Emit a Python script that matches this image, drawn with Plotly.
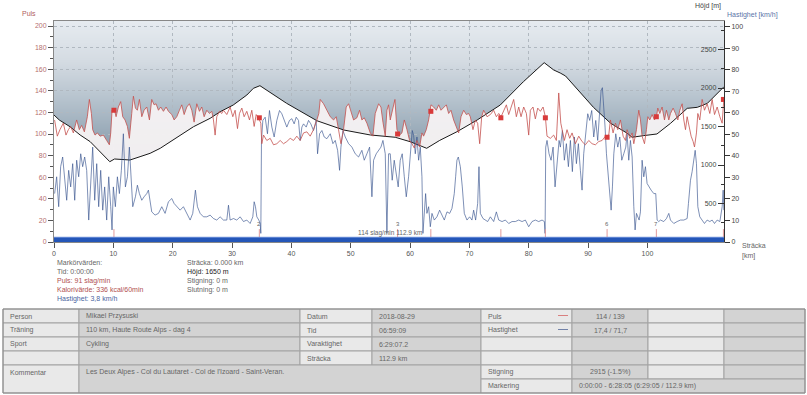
import plotly.graph_objects as go
import zlib, struct, base64

# ---------------- data ----------------
pulse_km = [0.1, 0.56, 1.0, 1.57, 2.02, 2.42, 2.81, 3.26, 3.82, 4.27, 4.66, 5.12, 5.62, 5.96, 6.3, 6.52, 6.91, 7.31, 7.76, 8.32,
            8.88, 9.33, 9.56, 9.78, 10.12, 10.46, 10.85, 11.24, 11.58, 11.97, 12.37, 12.7, 13.1, 13.38, 13.72, 14.05, 14.39, 14.79,
            15.18, 15.63, 16.08, 16.47, 16.87, 17.2, 17.6, 17.99, 18.44, 18.89, 19.28, 19.85, 20.24, 20.69, 21.14, 21.53, 21.93,
            22.38, 22.82, 23.22, 23.61, 24.06, 24.51, 24.9, 25.3, 25.75, 26.2, 26.59, 26.87, 27.15, 27.43, 27.88,
            28.27, 28.56, 29.12, 29.68, 30.13, 30.52, 30.92, 31.25, 31.65, 32.04, 32.49, 32.94, 33.33, 33.73, 34.07, 34.46,
            34.85, 35.02, 35.3, 35.86, 36.43, 36.99, 37.55, 38.11, 38.67, 39.23, 39.8, 40.36, 40.92, 41.48, 42.05, 42.61,
            43.17, 43.73, 44.29, 44.63, 44.86, 45.42, 45.98, 46.55, 47.11, 47.56, 47.95, 48.35, 48.79, 49.24, 49.64, 50.03,
            50.48, 51.04, 51.49, 51.88, 52.28, 52.73, 53.29, 53.74, 54.13, 54.7, 55.09, 55.43, 55.82, 56.1, 56.38,
            56.66, 57.11, 57.45, 57.79, 58.24, 58.63, 59.03, 59.48, 59.92, 60.32, 60.71, 61.16, 61.61, 62.0, 62.28, 62.73,
            63.13, 63.52, 63.97, 64.42, 64.82, 65.21, 65.66, 66.11, 66.5, 66.89, 67.34, 67.79, 68.19, 68.58, 69.03, 69.48,
            69.87, 70.15, 70.6, 71.0, 71.39, 71.73, 72.07, 72.4, 72.97, 73.53, 74.09, 74.54, 74.94, 75.33, 75.78, 76.23,
            76.62, 77.01, 77.46, 77.91, 78.31, 78.7, 79.15, 79.6, 79.99, 80.27, 80.72, 81.11, 81.51, 81.96, 82.41, 82.8,
            83.08, 83.64, 84.2, 84.65, 85.05, 85.4, 85.7,
            86.0, 86.45, 86.9, 87.3, 87.86, 88.42, 88.98, 89.54, 90.11, 90.67, 91.23, 91.79, 92.36, 92.92, 93.48, 93.76,
            94.21, 94.61, 95.0, 95.45, 95.9, 96.29, 96.57, 97.02, 97.42, 97.7, 98.15, 98.54, 98.82, 99.1, 99.5, 99.83,
            100.06, 100.39, 100.79, 101.18, 101.52, 101.74, 102.08, 102.47, 102.87, 103.2, 103.6, 103.88, 104.33, 104.72,
            105.12, 105.45, 105.85, 106.13, 106.41, 106.69, 106.97, 107.36, 107.7, 107.93, 108.26, 108.49, 108.82, 109.22,
            109.61, 110.06, 110.51, 110.9, 111.3, 111.75, 112.2, 112.59, 112.87]
pulse_bpm = [113, 98, 104, 110, 99, 104, 107, 101, 113, 104, 108, 102, 116, 132, 119, 104, 99, 101, 98, 99,
             94, 90, 101, 122, 124, 116, 125, 130, 116, 113, 107, 96, 119, 135, 124, 122, 132, 116,
             122, 125, 113, 132, 127, 128, 122, 125, 121, 125, 121, 118, 113, 116, 122, 127, 118,
             125, 128, 122, 111, 128, 121, 125, 116, 122, 119, 121, 113, 99, 116, 121,
             119, 122, 118, 125, 116, 122, 105, 119, 124, 116, 121, 113, 122, 107, 118, 115,
             110, 91, 99, 94, 96, 90, 91, 94, 91, 93, 96, 94, 98, 94, 101, 102,
             98, 104, 113, 119, 132, 128, 122, 116, 113, 116, 104, 91, 104, 125, 128, 122,
             113, 115, 122, 113, 115, 110, 101, 98, 119, 128, 125, 111, 98, 122, 127,
             113, 125, 132, 104, 99, 101, 113, 104, 94, 91, 87, 94, 88, 101, 98, 104,
             113, 127, 125, 122, 127, 122, 125, 127, 119, 122, 113, 107, 101, 116, 122, 118,
             119, 116, 104, 113, 110, 91, 116, 122, 116, 118, 122, 116, 119, 116, 122, 127,
             118, 124, 132, 116, 125, 116, 125, 119, 99, 122, 125, 114, 124, 121, 125, 116,
             98, 96, 99, 94, 138, 110, 100,
             94, 104, 96, 101, 91, 98, 93, 90, 94, 91, 90, 93, 94, 98, 99, 113,
             101, 110, 104, 113, 98, 94, 104, 96, 101, 91, 104, 122, 113, 98, 91, 104,
             116, 113, 118, 113, 116, 124, 119, 125, 113, 122, 113, 119, 124, 119,
             113, 122, 128, 113, 104, 116, 107, 98, 93, 88, 101, 119, 113, 132,
             122, 128, 119, 132, 118, 125, 116, 110, 132]

alt_km = [0, 0.9, 2.7, 4.4, 6.1, 7.8, 9.4, 10.2, 12.8, 14.5, 16.2, 17.9, 19.6, 21.5, 23.5, 26.3, 28.0, 30.2, 32.5,
          33.6, 34.7, 39.2, 44.3, 48.8, 53.3, 57.5, 60.0, 62.8, 65.0, 67.9, 71.3, 75.2, 79.1, 82.6, 84.2, 85.3, 86.2,
          90.9, 93.8, 96.6, 97.4, 99.3, 101.6, 103.9, 106.7, 108.4, 110.1, 112.9]
alt_m = [1649, 1584, 1497, 1390, 1303, 1173, 1043, 1078, 1065, 1108, 1152, 1217, 1303, 1390, 1497, 1606, 1692, 1779, 1909,
         1996, 2030, 1801, 1575, 1455, 1390, 1360, 1303, 1217, 1320, 1432, 1584, 1779, 2082, 2329, 2234, 2195, 2156,
         1749, 1542, 1412, 1360, 1381, 1403, 1542, 1736, 1749, 1801, 2017]

speed_km = [0.11, 0.45, 0.79, 1.12, 1.46, 1.8, 2.14, 2.47, 2.81, 3.15, 3.49, 3.82, 4.16, 4.5, 4.83, 5.17, 5.51, 5.85, 6.18,
            6.52, 6.86, 7.2, 7.53, 7.87, 8.21, 8.54, 8.88, 9.22, 9.56, 9.78, 10.0, 10.34, 10.68, 11.02, 11.35, 11.69, 12.03,
            12.37, 12.7, 12.93, 13.27, 13.72, 14.05, 14.39, 14.79, 15.18, 15.63, 15.91, 16.19, 16.47, 17.03, 17.6, 18.16,
            18.72, 19.28, 19.85, 20.24, 20.69, 21.25, 21.81, 22.38, 22.94, 23.38, 23.83, 24.17, 24.62, 25.18, 25.75, 26.31,
            26.87, 27.43, 27.99, 28.55,
            29.12, 29.4, 29.68, 30.24, 30.8, 31.37, 31.93, 32.49, 33.05, 33.5, 33.73, 33.95, 34.18, 34.51, 34.74, 34.85,
            34.96, 35.19, 35.58, 35.97, 36.31, 36.71, 37.1, 37.55, 38.0, 38.39, 38.79, 39.23, 39.68, 40.08, 40.47, 40.81,
            41.2, 41.48, 41.77, 42.05, 42.5, 42.89, 43.28, 43.73, 44.18, 44.41, 44.75, 45.14, 45.53, 45.98, 46.55, 47.0,
            47.39, 47.79, 48.12, 48.35, 48.69, 49.08, 49.64, 50.2, 50.76, 51.32, 51.88, 52.28, 52.73, 53.18, 53.57, 53.85,
            54.3, 54.7, 55.09, 55.43, 55.82, 56.1, 56.38,
            56.66, 56.99, 57.33, 57.67, 58.0, 58.34, 58.68, 59.03, 59.36, 59.75, 60.15, 60.37, 60.6, 60.88, 61.16, 61.44,
            61.72, 62.0, 62.17, 62.39, 62.62, 62.84, 63.13, 63.41, 63.69, 64.08, 64.53, 64.98, 65.38, 65.77, 66.22, 66.67,
            67.06, 67.45, 67.68, 67.9, 68.13, 68.47, 68.8, 69.14, 69.59, 70.04, 70.43, 70.71, 71.05, 71.39, 71.61, 71.84,
            72.29, 72.68, 73.08, 73.53, 74.09, 74.54, 74.94, 75.5, 76.06, 76.62, 77.18, 77.74, 78.31, 78.87, 79.43, 79.99,
            80.55, 81.11, 81.68, 82.24, 82.63, 82.75, 82.86, 83.08, 83.42, 83.76, 84.1, 84.43, 84.77, 85.11,
            85.33, 85.67, 86.0, 86.34, 86.68, 87.02, 87.35, 87.69, 88.03, 88.36, 88.7, 88.98, 89.26, 89.6, 89.94, 90.27,
            90.61, 90.95, 91.29, 91.62, 91.96, 92.19, 92.41, 92.64, 92.86, 93.09, 93.31, 93.65, 93.88, 94.1, 94.33, 94.66,
            95.0, 95.34, 95.67, 96.01, 96.35, 96.57, 96.85, 97.13, 97.42, 97.7, 97.92, 98.15, 98.37, 98.6, 98.82, 99.1,
            99.38, 99.66, 99.94, 100.23, 100.62, 101.07, 101.4, 101.63, 101.91, 102.19, 102.75, 103.2, 103.6, 103.88,
            104.44, 105.0, 105.56, 106.13, 106.69, 106.91, 107.25, 107.53, 107.81, 108.04, 108.26, 108.49, 108.82, 109.22,
            109.61, 110.06, 110.51, 110.9, 111.3, 111.75, 112.2, 112.59, 112.76, 112.87]
speed_kmh = [22.5, 30.3, 16.4, 35.0, 39.5, 28.7, 19.4, 33.3, 25.6, 36.4, 19.4, 38.0, 30.3, 41.0, 35.0, 39.5, 33.3, 10.2, 28.7,
             44.1, 19.4, 36.4, 16.4, 33.3, 14.8, 25.6, 10.2, 30.3, 16.4, 5.6, 25.6, 16.4, 30.3, 22.5, 33.3, 50.3, 25.6,
             30.3, 44.1, 32.7, 16.4, 21.0, 26.4, 22.5, 19.4, 21.0, 22.5, 24.1, 18.7, 14.0, 12.5, 13.3, 16.4,
             13.3, 18.7, 20.2, 17.9, 16.4, 14.8, 16.4, 13.3, 10.2, 13.3, 24.1, 16.4, 13.3, 11.7, 11.7, 12.5,
             10.9, 10.2, 11.7, 10.2,
             10.2, 17.1, 10.2, 10.9, 10.2, 11.7, 9.5, 10.2, 8.6, 11.7, 18.7, 16.4, 11.7, 10.2, 8.6, 4.0,
             47.2, 56.5, 58.0, 50.3, 61.1, 53.4, 48.8, 56.5, 61.1, 59.6, 56.5, 53.4, 56.5, 57.3, 54.9, 58.0,
             56.5, 47.2, 53.4, 54.9, 53.4, 56.5, 54.9, 51.8, 56.5, 41.0, 50.3, 51.8, 48.8, 48.0, 50.3, 45.7,
             47.2, 42.6, 33.3, 44.1, 51.8, 48.8, 45.7, 44.1, 41.0, 39.5, 42.6, 38.0, 41.0, 44.1, 21.0, 38.0,
             41.0, 42.6, 44.1, 47.2, 41.0, 4.0, 41.0,
             41.0, 28.7, 38.0, 32.7, 25.6, 38.0, 41.0, 30.3, 21.0, 30.3, 44.1, 51.8, 49.5, 41.0, 48.8, 38.0,
             44.1, 30.3, 4.0, 16.4, 22.5, 13.3, 16.4, 7.1, 13.3, 10.2, 11.7, 14.8, 12.5, 10.2, 14.0, 13.3,
             15.6, 22.5, 30.3, 38.0, 39.5, 35.0, 25.6, 13.3, 10.2, 11.7, 10.2, 14.8, 10.2, 17.9, 35.0, 13.3,
             10.9, 10.2, 9.5, 11.7, 9.5, 14.0, 10.2, 9.5, 10.2, 8.6, 9.5, 9.5, 10.2, 9.5, 10.2, 7.1,
             9.5, 10.2, 9.5, 10.2, 9.5, 4.0, 44.1, 47.2, 41.0, 38.0, 44.1, 25.6, 38.0, 47.2,
             44.1, 51.8, 38.0, 45.7, 35.0, 47.2, 32.7, 48.8, 36.4, 45.7, 33.3, 24.1, 41.0, 51.8, 59.6, 56.5,
             61.1, 48.8, 56.5, 47.2, 64.2, 70.4, 71.7, 64.2, 53.4, 41.0, 33.3, 22.5, 14.8, 25.6, 41.0, 50.3,
             44.1, 48.8, 38.0, 41.0, 44.1, 50.3, 38.0, 47.2, 39.5, 16.4, 5.6, 13.3, 11.7, 10.2, 14.0, 38.0,
             30.3, 35.0, 27.2, 25.6, 24.1, 22.5, 22.5, 10.2, 9.5, 10.2, 9.5, 10.9, 13.3, 10.2,
             8.6, 9.5, 10.2, 10.2, 10.9, 17.9, 28.7, 32.7, 38.0, 42.6, 36.4, 16.4, 11.7, 10.2,
             8.6, 10.2, 9.5, 10.2, 8.6, 10.2, 9.5, 16.4, 24.1, 14.8]

lap_km = [10.1, 34.6, 57.9, 63.5, 75.3, 82.8, 93.2, 101.5, 112.8]
lap_bpm = [122, 115, 100, 121, 115, 115, 97, 116, 132]
lap_label_km = [34.6, 57.9, 93.2, 101.5]
lap_labels = ["2", "3", "6", "7"]
mark_start_km, mark_end_km = 0.0, 112.9

pulse_ticks = list(range(0, 201, 20))
speed_ticks = list(range(0, 101, 10))
alt_ticks = [500, 1000, 1500, 2000, 2500]
km_ticks = list(range(0, 111, 10))

marker_left = [("Markörvärden:", "#666666"), ("Tid: 0:00:00", "#666666"), ("Puls: 91 slag/min", "#b05050"),
               ("Kalorivärde: 336 kcal/60min", "#b05050"), ("Hastighet: 3,8 km/h", "#4a64a0")]
marker_right = [("Sträcka: 0.000 km", "#666666"), ("Höjd: 1650 m", "#222222"), ("Stigning: 0 m", "#666666"),
                ("Slutning: 0 m", "#666666")]

table_text = [  # (column index, row index, text, align)
    (0, 0, "Person", "l"), (1, 0, "Mikael Przysuski", "l"), (2, 0, "Datum", "l"), (3, 0, "2018-08-29", "l"),
    (4, 0, "Puls", "l"), (5, 0, "114 / 139", "c"),
    (0, 1, "Träning", "l"), (1, 1, "110 km, Haute Route Alps - dag 4", "l"), (2, 1, "Tid", "l"), (3, 1, "06:59:09", "l"),
    (4, 1, "Hastighet", "l"), (5, 1, "17,4 / 71,7", "c"),
    (0, 2, "Sport", "l"), (1, 2, "Cykling", "l"), (2, 2, "Varaktighet", "l"), (3, 2, "6:29:07.2", "l"),
    (2, 3, "Sträcka", "l"), (3, 3, "112.9 km", "l"),
    (0, 4, "Kommentar", "l"), (1, 4, "Les Deux Alpes - Col du Lautaret - Col de l'Izoard - Saint-Veran.", "l"),
    (4, 4, "Stigning", "l"), (5, 4, "2915 (-1.5%)", "c"),
    (4, 5, "Markering", "l"), (5, 5, "0:00:00 - 6:28:05 (6:29:05 / 112.9 km)", "l"),
]

# ---------------- geometry (pixels) ----------------
W, H = 807, 395
PL, PR, PT, PB = 54, 724, 21, 242
def fx(px): return px / W
def fy(py): return 1 - py / H

FONT = "Liberation Sans, Arial, sans-serif"

# gradient background image (1 px wide PNG)
grad_stops = [(0, (230, 235, 240)), (40, (212, 219, 226)), (80, (180, 193, 204)), (110, (154, 171, 185)),
              (140, (130, 150, 168)), (221, (104, 127, 148))]
def grad_color(t):
    for (a, ca), (b, cb) in zip(grad_stops, grad_stops[1:]):
        if a <= t <= b:
            f = (t - a) / (b - a)
            return tuple(int(round(ca[i] + (cb[i] - ca[i]) * f)) for i in range(3))
    return grad_stops[-1][1]
def png_uri(colors):
    raw = b"".join(b"\x00" + bytes(c) for c in colors)
    def chunk(t, d):
        return struct.pack(">I", len(d)) + t + d + struct.pack(">I", zlib.crc32(t + d) & 0xffffffff)
    png = (b"\x89PNG\r\n\x1a\n" + chunk(b"IHDR", struct.pack(">IIBBBBB", 1, len(colors), 8, 2, 0, 0, 0))
           + chunk(b"IDAT", zlib.compress(raw)) + chunk(b"IEND", b""))
    return "data:image/png;base64," + base64.b64encode(png).decode()
grad_uri = png_uri([grad_color(t) for t in range(PB - PT)])

fig = go.Figure()

# pulse fill (under altitude)
fig.add_trace(go.Scatter(x=pulse_km, y=pulse_bpm, yaxis="y", mode="lines", fill="tozeroy",
                         fillcolor="rgba(245,241,243,0.96)", line=dict(width=0), hoverinfo="skip", showlegend=False))
# altitude
fig.add_trace(go.Scatter(x=alt_km, y=alt_m, yaxis="y2", mode="lines", fill="tozeroy", fillcolor="#ffffff",
                         line=dict(color="#1a1a1a", width=1), hoverinfo="skip", showlegend=False))
# speed
fig.add_trace(go.Scatter(x=speed_km, y=speed_kmh, yaxis="y3", mode="lines",
                         line=dict(color="rgba(52,80,140,0.85)", width=0.75), hoverinfo="skip", showlegend=False))
# lap ticks near the bottom
tx, ty = [], []
for k in lap_km:
    tx += [k, k, None]
    ty += [2.3, 6.0, None]
fig.add_trace(go.Scatter(x=tx, y=ty, yaxis="y3", mode="lines", line=dict(color="#e29a9a", width=1),
                         hoverinfo="skip", showlegend=False))
# pulse line + lap squares
fig.add_trace(go.Scatter(x=pulse_km, y=pulse_bpm, yaxis="y4", mode="lines",
                         line=dict(color="#c4504e", width=0.8), hoverinfo="skip", showlegend=False))
fig.add_trace(go.Scatter(x=lap_km, y=lap_bpm, yaxis="y4", mode="markers",
                         marker=dict(symbol="square", size=5, color="#d83a3a"), hoverinfo="skip", showlegend=False))

tickfont = dict(family=FONT, size=7, color="#555555")
dom_x = [fx(PL), fx(PR)]
dom_y = [fy(PB), fy(PT)]
pulse_range = [0, (PB - PT) / 1.08]
fig.update_layout(
    template="none", width=W, height=H, autosize=False,
    margin=dict(l=0, r=0, t=0, b=0, pad=0),
    paper_bgcolor="white", plot_bgcolor="rgba(0,0,0,0)", showlegend=False,
    xaxis=dict(domain=dom_x, range=[0, 112.9], tickvals=km_ticks, ticks="outside", ticklen=5, tickcolor="#555",
               tickfont=tickfont, showgrid=True, gridcolor="#b0b8c0", griddash="dot", gridwidth=1,
               showline=True, linecolor="#888", linewidth=1, mirror=True, zeroline=False, automargin=False,
               fixedrange=True),
    yaxis=dict(domain=dom_y, range=pulse_range, tickvals=pulse_ticks, ticks="outside", ticklen=5, tickcolor="#555",
               minor=dict(dtick=10, tick0=0, ticks="outside", ticklen=3, tickcolor="#555", showgrid=False),
               tickfont=dict(family=FONT, size=7, color="#b57070"), showgrid=True, gridcolor="#b0b8c0",
               griddash="dot", gridwidth=1, showline=True, linecolor="#888", linewidth=1, zeroline=False,
               automargin=False, fixedrange=True),
    yaxis2=dict(overlaying="y", side="right", anchor="x", range=[0, (PB - PT) / 0.077], tickvals=alt_ticks,
                ticks="inside", ticklen=6, tickcolor="#333", ticklabelposition="inside",
                minor=dict(dtick=250, tick0=0, ticks="inside", ticklen=3, tickcolor="#333", showgrid=False),
                tickfont=dict(family=FONT, size=7, color="#444"), showgrid=False, zeroline=False,
                showline=True, linecolor="#333", linewidth=1, automargin=False, fixedrange=True),
    yaxis3=dict(overlaying="y", side="right", anchor="x", range=[0, (PB - PT) / 2.152], tickvals=speed_ticks,
                ticks="outside", ticklen=5, tickcolor="#333", tickfont=dict(family=FONT, size=7, color="#444"),
                showgrid=False, zeroline=False, showline=False, automargin=False, fixedrange=True),
    yaxis4=dict(overlaying="y", side="left", anchor="x", range=pulse_range, visible=False, showgrid=False,
                zeroline=False, fixedrange=True),
)

fig.add_layout_image(dict(source=grad_uri, xref="paper", yref="paper", x=fx(PL), y=fy(PT),
                          sizex=fx(PR) - fx(PL), sizey=(PB - PT) / H, sizing="stretch",
                          xanchor="left", yanchor="top", layer="below"))

shapes = []
# blue marking bar
shapes.append(dict(type="rect", xref="x", yref="y3", x0=mark_start_km, x1=mark_end_km, y0=0, y1=2.3,
                   fillcolor="#2456b8", line=dict(width=0), layer="above"))
shapes.append(dict(type="line", xref="x", yref="y3", x0=mark_start_km, x1=mark_end_km, y0=2.2, y1=2.2,
                   line=dict(color="#6d90d8", width=1), layer="above"))

ann = []
def text(px, py, s, color="#666666", size=7, xanchor="left", yanchor="middle"):
    ann.append(dict(x=fx(px), y=fy(py), xref="paper", yref="paper", text=s, showarrow=False,
                    xanchor=xanchor, yanchor=yanchor, font=dict(family=FONT, size=size, color=color)))

# axis titles
text(20, 14, "Puls", "#b06060")
text(708, 6, "Höjd [m]", "#444444", xanchor="center")
text(752, 15, "Hastighet [km/h]", "#5a74a8", xanchor="center")
text(740, 245, "Sträcka", "#666666")
text(740, 256, "[km]", "#666666")

# lap labels and marker text in plot
for k, lab in zip(lap_label_km, lap_labels):
    ann.append(dict(x=k, y=8.4, xref="x", yref="y3", text=lab, showarrow=False, xanchor="center",
                    yanchor="middle", font=dict(family=FONT, size=6, color="#666")))
ann.append(dict(x=56.7, y=4.2, xref="x", yref="y3", text="114 slag/min 112.9 km", showarrow=False,
                xanchor="center", yanchor="middle", font=dict(family=FONT, size=6.5, color="#666")))

# marker values under chart
for i, (s, c) in enumerate(marker_left):
    text(55, 262.5 + i * 9.1, s, c)
for i, (s, c) in enumerate(marker_right):
    text(185, 262.5 + i * 9.1, s, c)

# ---------------- table ----------------
cols = [3, 79, 300, 372, 481, 572, 648, 724, 805]
rows = [309, 323, 337, 351, 365, 379, 393]
LIGHT, DARK, GRID = "#e9e9e9", "#d3d3d3", "#a3a3a3"
def cell(x0, x1, y0, y1, fill):
    shapes.append(dict(type="rect", xref="paper", yref="paper", x0=fx(x0), x1=fx(x1), y0=fy(y1), y1=fy(y0),
                       fillcolor=fill, line=dict(color=GRID, width=1), layer="above"))
for r in range(4):
    for c in range(8):
        cell(cols[c], cols[c + 1], rows[r], rows[r + 1], LIGHT if c % 2 == 0 else DARK)
cell(cols[0], cols[1], rows[4], rows[6], LIGHT)
cell(cols[1], cols[4], rows[4], rows[6], DARK)
for c in range(4, 8):
    cell(cols[c], cols[c + 1], rows[4], rows[5], LIGHT if c % 2 == 0 else DARK)
cell(cols[4], cols[5], rows[5], rows[6], LIGHT)
cell(cols[5], cols[8], rows[5], rows[6], DARK)
shapes.append(dict(type="rect", xref="paper", yref="paper", x0=fx(cols[0]), x1=fx(cols[-1]), y0=fy(rows[-1]),
                   y1=fy(rows[0]), line=dict(color="#8a8a8a", width=1), layer="above"))
# legend lines in table
shapes.append(dict(type="line", xref="paper", yref="paper", x0=fx(558), x1=fx(568), y0=fy(315.5), y1=fy(315.5),
                   line=dict(color="#d98080", width=1), layer="above"))
shapes.append(dict(type="line", xref="paper", yref="paper", x0=fx(558), x1=fx(568), y0=fy(329.5), y1=fy(329.5),
                   line=dict(color="#7282a8", width=1), layer="above"))

for c, r, s, al in table_text:
    yc = (rows[r] + rows[r + 1]) / 2
    if al == "c":
        text((cols[c] + cols[c + 1]) / 2, yc, s, xanchor="center")
    else:
        text(cols[c] + 5, yc, s)

fig.update_layout(shapes=shapes, annotations=ann)
fig.write_html("out.html", config={"displayModeBar": False, "staticPlot": True},
               post_script="document.body.style.margin='0';document.body.style.overflow='hidden';")
